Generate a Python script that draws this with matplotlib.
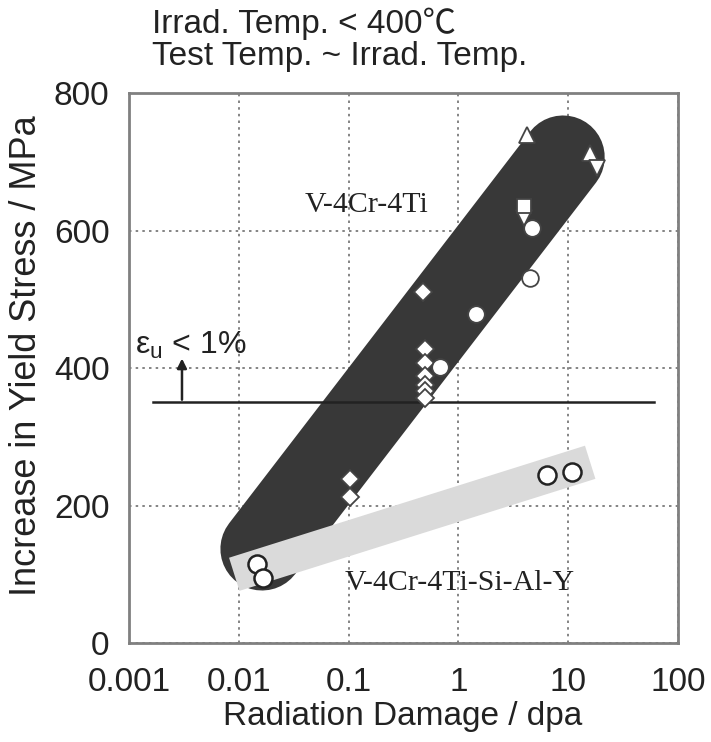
import matplotlib
matplotlib.use("Agg")
import matplotlib.pyplot as plt

plt.rcParams['font.family'] = ['Liberation Sans', 'DejaVu Sans']
plt.rcParams['mathtext.fontset'] = 'custom'
plt.rcParams['mathtext.rm'] = 'Liberation Sans'

# Scatter bands (centre line end points)
dark_band_x = [0.0163, 9.0]
dark_band_y = [137, 707]
light_band_x = [0.0091, 15.9]
light_band_y = [100, 263]

# V-4Cr-4Ti data
tri_up_x = [4.2, 15.9]
tri_up_y = [739, 713]
tri_dn_x = [4.0, 18.5]
tri_dn_y = [618, 691]
square_x = [4.0]
square_y = [636]
diamond_x = [0.48, 0.5, 0.5, 0.5, 0.5, 0.5, 0.5, 0.103, 0.103]
diamond_y = [511, 428, 408, 388, 376, 366, 357, 238, 212]
circle_x = [4.7, 4.5, 1.46, 0.68]
circle_y = [604, 531, 479, 401]

# V-4Cr-4Ti-Si-Al-Y data
open_circle_x = [0.0147, 0.0167, 6.4, 10.9]
open_circle_y = [115, 95, 244, 249]

# uniform elongation limit
limit_x = [0.00166, 60]
limit_y = [350, 350]

fig = plt.figure(figsize=(7.11, 7.42), dpi=100)
ax = fig.add_axes([0.1814, 0.1334, 0.772, 0.741])
ax.set_xscale('log')
ax.set_xlim(0.001, 100)
ax.set_ylim(0, 800)

ax.grid(True, which='major', linestyle=(0, (1.5, 2.5)), color='#707070', linewidth=1.2, zorder=0)
ax.set_axisbelow(True)

dark = '#383838'
ax.plot(dark_band_x, dark_band_y, color=dark, linewidth=60, solid_capstyle='round', zorder=2)
ax.plot(light_band_x, light_band_y, color='#dadada', linewidth=25, solid_capstyle='butt', zorder=3)

ax.plot(limit_x, limit_y, color='#222222', linewidth=1.8, zorder=4)
ax.annotate('', xy=(0.00304, 418), xytext=(0.00304, 350),
            arrowprops=dict(arrowstyle='-|>', color='#222222', lw=1.8, mutation_scale=14), zorder=4)
ax.text(0.00113, 433, r'ε$_\mathrm{u}$ < 1%', fontsize=23, va='center', ha='left', color='#222222')

mk = dict(linestyle='none', markerfacecolor='white', markeredgecolor='#444444', markeredgewidth=1.3, zorder=5)
ax.plot(tri_up_x, tri_up_y, marker='^', markersize=12, **mk)
ax.plot(tri_dn_x, tri_dn_y, marker='v', markersize=12, **mk)
ax.plot(square_x, square_y, marker='s', markersize=9.5, **mk)
ax.plot(diamond_x, diamond_y, marker='D', markersize=9, **mk)
ax.plot(circle_x, circle_y, marker='o', markersize=12, **mk)
ax.plot(open_circle_x, open_circle_y, marker='o', markersize=13,
        linestyle='none', markerfacecolor='white', markeredgecolor='#222222', markeredgewidth=1.8, zorder=5)

ax.text(0.0402, 637, 'V-4Cr-4Ti', family='Liberation Serif', fontsize=21.5, va='center', ha='left', color='#222222', zorder=6)
ax.text(0.093, 87, 'V-4Cr-4Ti-Si-Al-Y', family='Liberation Serif', fontsize=21.5, va='center', ha='left', color='#222222', zorder=6)

ax.set_xticks([0.001, 0.01, 0.1, 1, 10, 100])
ax.set_xticklabels(['0.001', '0.01', '0.1', '1', '10', '100'])
ax.set_yticks([0, 200, 400, 600, 800])
ax.minorticks_off()
ax.tick_params(axis='both', length=0, labelsize=24, colors='#222222')
ax.tick_params(axis='x', pad=17)
ax.tick_params(axis='y', pad=14)
for s in ax.spines.values():
    s.set_color('#808080')
    s.set_linewidth(2)

fig.text(403 / 711, 1 - 716 / 742, 'Radiation Damage / dpa', fontsize=24, ha='center', va='center', color='#222222')
fig.text(27 / 711, 1 - 356 / 742, 'Increase in Yield Stress / MPa', fontsize=26, ha='center', va='center',
         rotation=90, color='#222222')
fig.text(152 / 711, 1 - 24 / 742, 'Irrad. Temp. < 400℃', fontsize=24, ha='left', va='center',
         color='#222222', family=['Liberation Sans', 'Noto Sans CJK JP'])
fig.text(152 / 711, 1 - 57 / 742, 'Test Temp. ~ Irrad. Temp.', fontsize=24, ha='left', va='center', color='#222222')

fig.savefig('out.png', dpi=100, facecolor='white')
